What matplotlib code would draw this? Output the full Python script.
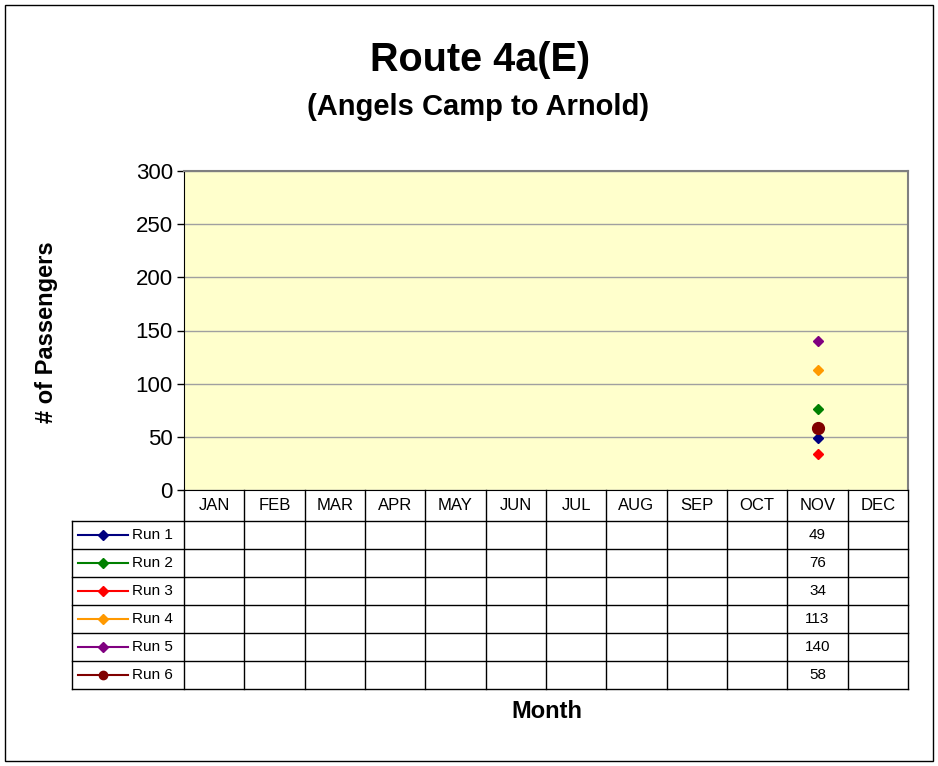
import numpy as np
import matplotlib
matplotlib.use('Agg')
import matplotlib.pyplot as plt
from matplotlib.patches import Rectangle

plt.rcParams['font.family'] = ['Liberation Sans', 'DejaVu Sans']

months = ['JAN', 'FEB', 'MAR', 'APR', 'MAY', 'JUN', 'JUL', 'AUG', 'SEP', 'OCT', 'NOV', 'DEC']
runs = ['Run 1', 'Run 2', 'Run 3', 'Run 4', 'Run 5', 'Run 6']
nan = np.nan
run1 = [nan] * 10 + [49, nan]
run2 = [nan] * 10 + [76, nan]
run3 = [nan] * 10 + [34, nan]
run4 = [nan] * 10 + [113, nan]
run5 = [nan] * 10 + [140, nan]
run6 = [nan] * 10 + [58, nan]
series = [run1, run2, run3, run4, run5, run6]
colors = ['#000080', '#008000', '#FF0000', '#FF9900', '#800080', '#800000']
markers = ['D', 'D', 'D', 'D', 'D', 'o']
msizes = [5, 5, 5, 5, 5, 8.5]

W, H = 938, 766
fig = plt.figure(figsize=(W / 100, H / 100), dpi=100)

def px_axes(x0, y0, x1, y1):
    return fig.add_axes([x0 / W, 1 - y1 / H, (x1 - x0) / W, (y1 - y0) / H])

# outer chart border
fig.patches.append(Rectangle((5 / W, 5 / H), (933 - 5) / W, (761 - 5) / H,
                             transform=fig.transFigure, fill=False,
                             edgecolor='black', linewidth=1))

fig.text(480 / W, 1 - 60 / H, 'Route 4a(E)', ha='center', va='center',
         fontsize=28.5, fontweight='bold')
fig.text(478 / W, 1 - 107 / H, '(Angels Camp to Arnold)', ha='center', va='center',
         fontsize=21, fontweight='bold')

# plot area
x_left, x_right = 184, 908
ax = px_axes(x_left, 171, x_right, 490)
ax.set_facecolor('#FFFFCC')
x = np.arange(len(months))
for vals, c, m, ms in zip(series, colors, markers, msizes):
    ax.plot(x, vals, color=c, marker=m, markersize=ms, linewidth=2, zorder=3)
ax.set_xlim(-0.5, 11.5)
ax.set_ylim(0, 300)
ax.set_yticks(range(0, 301, 50))
ax.tick_params(axis='y', labelsize=16, length=5, width=1, pad=3)
ax.set_xticks([])
ax.grid(axis='y', color='#A0A0A0', linewidth=1)
ax.set_axisbelow(True)
for s in ['top', 'right']:
    ax.spines[s].set_color('#808080')
    ax.spines[s].set_linewidth(1.5)
ax.spines['left'].set_color('black')
ax.spines['bottom'].set_color('black')
fig.text(47 / W, 1 - 332 / H, '# of Passengers', rotation=90, ha='center', va='center',
         fontsize=17, fontweight='bold')

# data table below the plot
col_w = (x_right - x_left) / 12
tab_left = 72
tab = px_axes(tab_left, 490, x_right, 689)
tab.set_xlim(-0.5 - (x_left - tab_left) / col_w, 11.5)
hdr = 31
row_h = (199 - hdr) / 6
tab.set_ylim(199, 0)
tab.axis('off')
left_edge = -0.5 - (x_left - tab_left) / col_w
lw = 1
for i in range(13):
    tab.plot([i - 0.5, i - 0.5], [0, 199], color='black', linewidth=lw, clip_on=False)
tab.plot([left_edge, left_edge], [hdr, 199], color='black', linewidth=lw, clip_on=False)
for r in range(7):
    yy = hdr + r * row_h
    tab.plot([left_edge, 11.5], [yy, yy], color='black', linewidth=lw, clip_on=False)
for i, mth in enumerate(months):
    tab.text(i, hdr / 2, mth, ha='center', va='center', fontsize=12)
key_x0 = left_edge + 6 / col_w
key_x1 = left_edge + 56 / col_w
for r, (name, vals, c, m, ms) in enumerate(zip(runs, series, colors, markers, msizes)):
    yc = hdr + (r + 0.5) * row_h
    tab.plot([key_x0, key_x1], [yc, yc], color=c, linewidth=1.5)
    tab.plot([(key_x0 + key_x1) / 2], [yc], color=c, marker=m,
             markersize=6 if m == 'o' else 5)
    tab.text(key_x1 + 4 / col_w, yc, name, ha='left', va='center', fontsize=11)
    for i, v in enumerate(vals):
        if not np.isnan(v):
            tab.text(i, yc, f'{v:g}', ha='center', va='center', fontsize=11)

fig.text(547 / W, 1 - 712 / H, 'Month', ha='center', va='center',
         fontsize=17, fontweight='bold')

fig.savefig('out.png', dpi=100)
